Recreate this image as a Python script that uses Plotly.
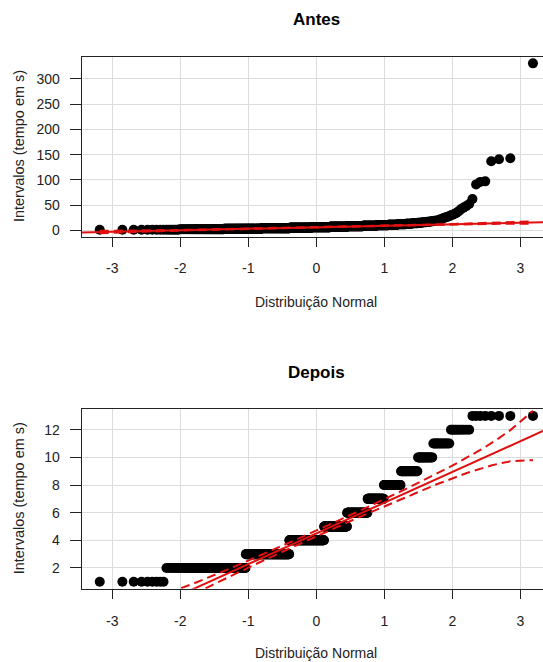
import math
import numpy as np
import plotly.graph_objects as go
from statistics import NormalDist

# ---------------- data ----------------
# "Antes": sorted sample given as a frequency table for the body plus the upper tail
antes_values = [1, 2, 3, 4, 5, 6, 7, 8, 9, 10, 11, 12, 13, 14, 15, 16, 17, 18, 19, 20, 22, 24, 25]
antes_counts = [15, 45, 85, 95, 85, 75, 65, 55, 40, 30, 20, 15, 10, 8, 6, 5, 4, 3, 3, 2, 2, 1, 1]
antes_tail = [26, 27, 28, 30, 31, 33, 35, 38, 42, 45, 48, 52, 62, 91, 96, 97, 137, 141, 143, 331]

# "Depois": integer values with their counts
depois_values = [1, 2, 3, 4, 5, 6, 7, 8, 9, 10, 11, 12, 13]
depois_counts = [9, 94, 135, 138, 89, 69, 45, 37, 27, 17, 13, 9, 8]

x_ticks = [-3, -2, -1, 0, 1, 2, 3]
antes_yticks = [0, 50, 100, 150, 200, 250, 300]
depois_yticks = [2, 4, 6, 8, 10, 12]

titles = ["Antes", "Depois"]
x_title = "Distribuição Normal"
y_title = "Intervalos (tempo em s)"

# ---------------- qq-plot computations (car::qqPlot style) ----------------
nd = NormalDist()


def ppoints(n):
    a = 3 / 8 if n <= 10 else 0.5
    return np.array([(i - a) / (n + 1 - 2 * a) for i in range(1, n + 1)])


def qq(sample):
    y = np.sort(np.asarray(sample, dtype=float))
    n = len(y)
    P = ppoints(n)
    z = np.array([nd.inv_cdf(p) for p in P])
    q1, q3 = np.quantile(y, [0.25, 0.75])
    z1, z3 = nd.inv_cdf(0.25), nd.inv_cdf(0.75)
    b = (q3 - q1) / (z3 - z1)
    a = q1 - b * z1
    zz = nd.inv_cdf(0.975)
    dens = np.exp(-z ** 2 / 2) / math.sqrt(2 * math.pi)
    se = (b / dens) * np.sqrt(P * (1 - P) / n)
    fit = a + b * z
    return z, y, a, b, fit + zz * se, fit - zz * se


antes = np.repeat(antes_values, antes_counts).tolist() + antes_tail
depois = np.repeat(depois_values, depois_counts).tolist()

# ---------------- layout geometry ----------------
W, H = 543, 662
XR = [-3.45, 3.332]
FONT = "Liberation Sans, Arial, sans-serif"
RED = "#E01010"

fig = go.Figure()

panels = [
    dict(data=antes, yticks=antes_yticks, yr=[-12.3, 344.2], top=56.7, bot=236.5, title_y=19.7, xt_y=301.5),
    dict(data=depois, yticks=depois_yticks, yr=[0.5, 13.5], top=409.0, bot=588.7, title_y=372.3, xt_y=653.0),
]

annotations = []
for k, p in enumerate(panels):
    xa = "x" if k == 0 else "x2"
    ya = "y" if k == 0 else "y2"
    z, y, a, b, up, lo = qq(p["data"])
    fig.add_trace(go.Scatter(x=z, y=y, mode="markers", xaxis=xa, yaxis=ya,
                             marker=dict(color="black", size=10, line=dict(width=0)),
                             showlegend=False, hoverinfo="skip"))
    fig.add_trace(go.Scatter(x=XR, y=[a + b * XR[0], a + b * XR[1]], mode="lines", xaxis=xa, yaxis=ya,
                             line=dict(color=RED, width=2), showlegend=False, hoverinfo="skip"))
    for band in (up, lo):
        fig.add_trace(go.Scatter(x=z, y=band, mode="lines", xaxis=xa, yaxis=ya,
                                 line=dict(color=RED, width=2, dash="9px,5px"),
                                 showlegend=False, hoverinfo="skip"))

    ydom = [1 - p["bot"] / H, 1 - p["top"] / H]
    xaxis = dict(domain=[81.7 / W, 1.0], range=XR, tickvals=x_ticks, ticktext=[str(v) for v in x_ticks],
                 ticks="outside", ticklen=9, tickcolor="#222", tickwidth=1,
                 showline=True, mirror=True, linecolor="#222", linewidth=1,
                 showgrid=True, gridcolor="#DCDCDC", gridwidth=1, zeroline=False,
                 tickfont=dict(family=FONT, size=14, color="#222"), ticklabelstandoff=10,
                 anchor=ya, automargin=False, fixedrange=True)
    yaxis = dict(domain=ydom, range=p["yr"], tickvals=p["yticks"], ticktext=[str(v) for v in p["yticks"]],
                 ticks="outside", ticklen=11, tickcolor="#222", tickwidth=1,
                 showline=True, mirror=False, linecolor="#222", linewidth=1,
                 showgrid=True, gridcolor="#DCDCDC", gridwidth=1, zeroline=False,
                 tickfont=dict(family=FONT, size=14, color="#222"), ticklabelstandoff=7,
                 anchor=xa, automargin=False, fixedrange=True)
    fig.update_layout(**{("xaxis" if k == 0 else "xaxis2"): xaxis,
                         ("yaxis" if k == 0 else "yaxis2"): yaxis})

    annotations.append(dict(text="<b>%s</b>" % titles[k], x=0, xref=xa, y=1 - p["title_y"] / H, yref="paper",
                            xanchor="center", yanchor="middle", showarrow=False,
                            font=dict(family=FONT, size=17, color="black")))
    annotations.append(dict(text=x_title, x=0, xref=xa, y=1 - p["xt_y"] / H, yref="paper",
                            xanchor="center", yanchor="middle", showarrow=False,
                            font=dict(family=FONT, size=14, color="#222")))
    annotations.append(dict(text=y_title, x=18.5 / W, xref="paper", y=1 - (p["top"] + p["bot"]) / 2 / H,
                            yref="paper", xanchor="center", yanchor="middle", textangle=-90, showarrow=False,
                            font=dict(family=FONT, size=14.5, color="#222")))

fig.update_layout(width=W, height=H, margin=dict(l=0, r=0, t=0, b=0, pad=0),
                  paper_bgcolor="white", plot_bgcolor="white", showlegend=False,
                  annotations=annotations)

fig.write_html("out.html", config={"displayModeBar": False},
               post_script="document.body.style.margin='0';document.body.style.overflow='hidden';")
